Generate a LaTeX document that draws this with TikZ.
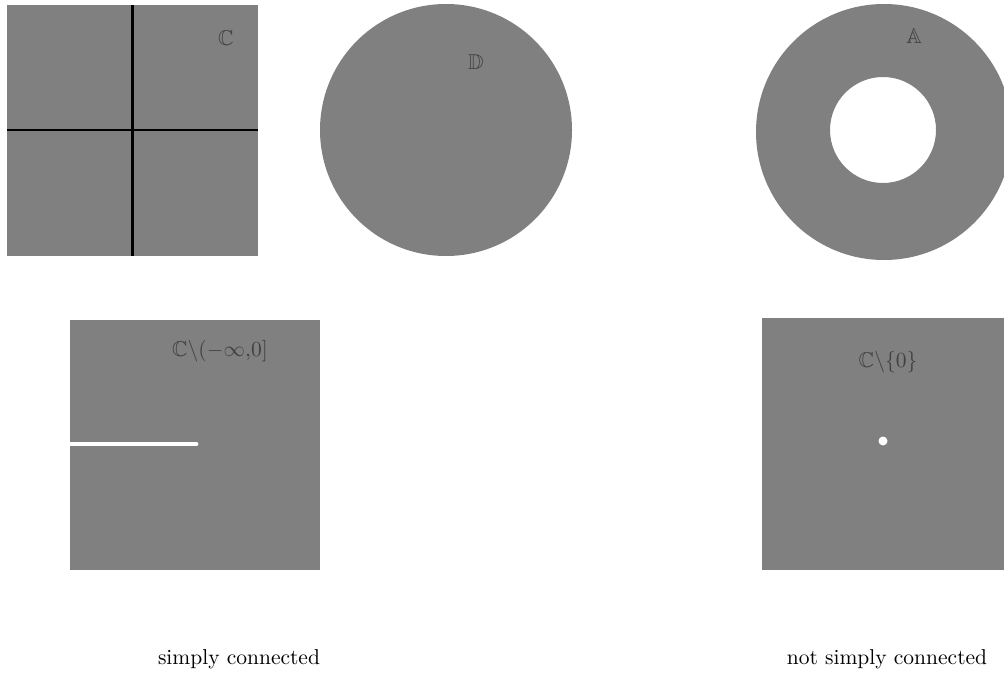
\documentclass[tikz,border=0pt]{standalone}
\usepackage{amssymb}
\usetikzlibrary{positioning}

\begin{document}
\begin{tikzpicture}[
    x=0.465pt, y=-0.465pt,
    region/.style={fill=black!50, draw=none},
    lbl/.style={text=black!75, inner sep=0pt},
    caption/.style={text=black, inner sep=0pt}
]
\useasboundingbox (0,0) rectangle (1004,675);

% Plane
\fill[region] (7,5) rectangle (258,256);
\draw[line width=1pt] (132.5,5) -- (132.5,256);
\draw[line width=1pt] (7,130) -- (258,130);
\node[lbl] (plane) at (226,38) {$\mathbb{C}$};

% Disc
\fill[region] (446,130) circle (126);
\node[lbl] (disc) at (476,62) {$\mathbb{D}$};

% Annulus
\fill[region, even odd rule] (884,132) circle (128) (883,130) circle (53);
\node[lbl] (annulus) at (914,36) {$\mathbb{A}$};

% Slit plane
\fill[region] (70,320) rectangle (320,570);
\draw[white, line width=2.3pt, line cap=round] (60,444) -- (196,444);
\fill[white] (67,440) rectangle (70,448);
\node[lbl] (slit) at (220,351) {$\mathbb{C}\backslash(-\infty{,}0]$};

% Punctured plane
\fill[region] (762,318) rectangle (1004,570);
\fill[white] (883,441) circle (4.5);
\node[lbl] (punct) at (888,362) {$\mathbb{C}\backslash\{0\}$};

% Captions
\node[caption] (simply) at (239,659) {simply connected};
\node[caption] (notsimply) at (887,659) {not simply connected};

\end{tikzpicture}
\end{document}
